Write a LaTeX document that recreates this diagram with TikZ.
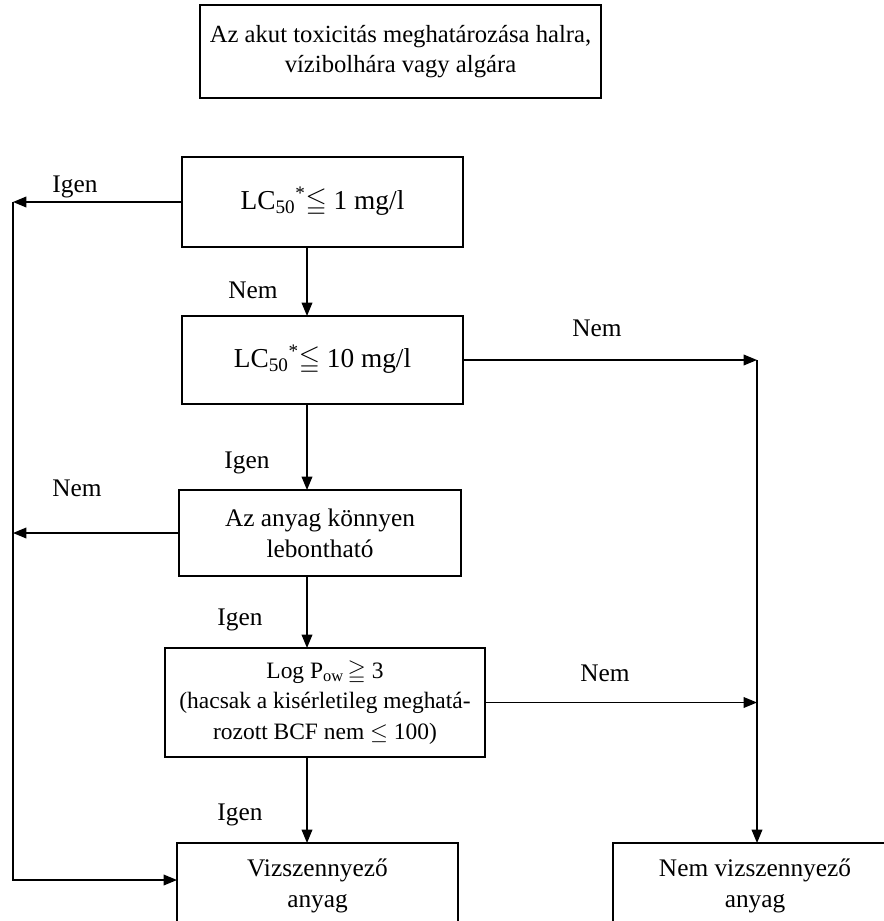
\documentclass[tikz,border=0pt]{standalone}
\usepackage{amssymb}
\usepackage{fontspec}
\setmainfont{Liberation Serif}
\usetikzlibrary{arrows.meta}

\tikzset{every picture/.style={line width=0.75pt}}
\tikzset{
  box/.style={draw, line width=0.9pt, inner sep=0pt, outer sep=0pt, align=center, font=\fontsize{19pt}{23pt}\selectfont},
  lbl/.style={font=\fontsize{19pt}{23pt}\selectfont, inner sep=0pt},
  flow/.style={-{Triangle[length=10pt,width=8pt]}, line width=1pt},
}

\begin{document}
\begin{tikzpicture}[x=0.75pt,y=0.75pt,yscale=-1,xscale=1]
\useasboundingbox (0,0) rectangle (883,921);

%rails and spine
\coordinate (leftrail) at (13,0);
\coordinate (rightrail) at (757,0);
\coordinate (mid) at (307,0);

%Shape: Rectangle [id:top]
\node[box, minimum width=300.75pt, minimum height=69.75pt, font=\fontsize{18.5pt}{23pt}\selectfont] (top) at (400.5,51.5) {Az akut toxicitás meghatározása halra,\\ vízibolhára vagy algára};
%Shape: Rectangle [id:lc1]
\node[box, minimum width=210.75pt, minimum height=67.5pt, font=\fontsize{20.5pt}{24pt}\selectfont] (lc1) at (322.5,202) {LC\textsubscript{50}\textsuperscript{*}$\leqq$ 1 mg/l};
%Shape: Rectangle [id:lc10]
\node[box, minimum width=210.75pt, minimum height=66pt, font=\fontsize{20.5pt}{24pt}\selectfont] (lc10) at (322.5,360) {LC\textsubscript{50}\textsuperscript{*}$\leqq$ 10 mg/l};
%Shape: Rectangle [id:az]
\node[box, minimum width=211.5pt, minimum height=64.5pt] (az) at (320,533) {Az anyag könnyen\\ lebontható};
%Shape: Rectangle [id:logp]
\node[box, minimum width=240pt, minimum height=81.75pt, font=\fontsize{17.6pt}{23pt}\selectfont] (logp) at (325,702.5) {Log P\textsubscript{ow}$\,\geqq$ 3\\ (hacsak a kisérletileg meghatá-\\ rozott BCF nem $\leq$ 100)};
%Shape: Rectangle [id:viz]
\node[box, minimum width=210.75pt, minimum height=64.5pt, anchor=north] (viz) at (317.5,843) {Vizszennyező\\ anyag};
%Shape: Rectangle [id:nemviz]
\node[box, minimum width=213pt, minimum height=64.5pt, anchor=north] (nemviz) at (755,843) {Nem vizszennyező\\ anyag};

%Straight Lines down the middle
\draw[flow] (lc1.south -| mid) -- (lc10.north -| mid);
\draw[flow] (lc10.south -| mid) -- (az.north -| mid);
\draw[flow] (az.south -| mid) -- (logp.north -| mid);
\draw[flow] (logp.south -| mid) -- (viz.north -| mid);

%left side
\draw[flow] (lc1.west) -- (lc1.west -| leftrail);
\draw[flow] (az.west) -- (az.west -| leftrail);
\draw[flow] (lc1.west -| leftrail) -- ([yshift=-4.5pt]viz.west -| leftrail) -- ([yshift=-4.5pt]viz.west);

%right side
\draw[flow] (lc10.east) -- (lc10.east -| rightrail);
\draw[flow] (logp.east) -- (logp.east -| rightrail);
\draw[flow] (lc10.east -| rightrail) -- (nemviz.north -| rightrail);

%labels
\node[lbl] (igen1) at (75,187) {Igen};
\node[lbl] (nem1) at (253,290) {Nem};
\node[lbl] (nem2) at (597,328) {Nem};
\node[lbl] (igen2) at (247,463) {Igen};
\node[lbl] (nem3) at (77,488) {Nem};
\node[lbl] (igen3) at (240,620) {Igen};
\node[lbl] (nem4) at (605,673) {Nem};
\node[lbl] (igen4) at (240,815) {Igen};

\end{tikzpicture}
\end{document}
